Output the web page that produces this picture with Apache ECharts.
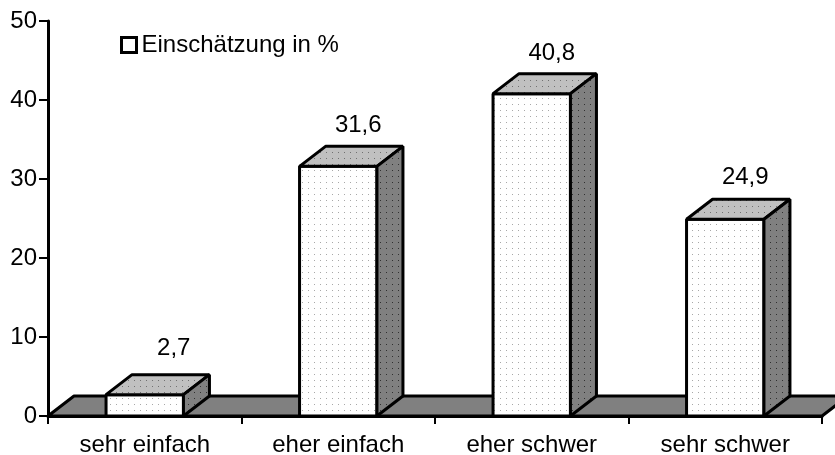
<!DOCTYPE html>
<html>
<head>
<meta charset="utf-8">
<style>
  html, body { margin: 0; padding: 0; background: #fff; }
  #chart { width: 835px; height: 455px; }
</style>
<script src="https://cdn.jsdelivr.net/npm/echarts@6/dist/echarts.min.js"></script>
</head>
<body>
<div id="chart"></div>
<script>
const categories = ['sehr einfach', 'eher einfach', 'eher schwer', 'sehr schwer'];
const values = [2.7, 31.6, 40.8, 24.9];
const yTicks = { min: 0, max: 50, interval: 10 };
const seriesName = 'Einschätzung in %';

const FONT = '"Liberation Sans", Arial, sans-serif';
const DEPTH_X = 26;
const DEPTH_Y = 20;
const LINE = { stroke: '#000', lineWidth: 3, lineJoin: 'bevel' };
// value labels do not sit at a fixed distance from the bars in the original
const labelNudge = [[29, -46], [20, -41], [20, -40], [20, -42]];

function dots(background, dot) {
  const c = document.createElement('canvas');
  c.width = 6;
  c.height = 6;
  const ctx = c.getContext('2d');
  ctx.fillStyle = background;
  ctx.fillRect(0, 0, 6, 6);
  ctx.fillStyle = dot;
  ctx.fillRect(2, 2, 1, 1);
  return { image: c, repeat: 'repeat' };
}

const frontFill = dots('#ffffff', '#a8a8a8');
const topFill = dots('#c0c0c0', '#707070');
const sideFill = dots('#808080', '#303030');

function poly(points, fill) {
  return { type: 'polygon', shape: { points }, style: { fill, ...LINE } };
}

function renderFloor(params) {
  const g = params.coordSys;
  const left = g.x;
  const right = g.x + g.width;
  const base = g.y + g.height;
  return poly([
    [left, base],
    [left + DEPTH_X, base - DEPTH_Y],
    [right + DEPTH_X, base - DEPTH_Y],
    [right, base]
  ], '#808080');
}

function renderBar(params, api) {
  const index = api.value(0);
  const top = api.coord([index, api.value(1)]);
  const base = api.coord([index, 0]);
  const width = api.size([1, 0])[0] * 0.4;
  const l = top[0] - width / 2;
  const r = top[0] + width / 2;
  const t = top[1];
  const b = base[1];
  return {
    type: 'group',
    children: [
      poly([[l, t], [r, t], [r, b], [l, b]], frontFill),
      poly([[l, t], [l + DEPTH_X, t - DEPTH_Y], [r + DEPTH_X, t - DEPTH_Y], [r, t]], topFill),
      poly([[r, t], [r + DEPTH_X, t - DEPTH_Y], [r + DEPTH_X, b - DEPTH_Y], [r, b]], sideFill),
      {
        type: 'text',
        style: {
          x: top[0] + labelNudge[index][0],
          y: t + labelNudge[index][1],
          text: String(api.value(1)).replace('.', ','),
          font: '24px ' + FONT,
          fill: '#000',
          align: 'center',
          verticalAlign: 'middle'
        }
      }
    ]
  };
}

const chart = echarts.init(document.getElementById('chart'));
chart.setOption({
  animation: false,
  backgroundColor: '#fff',
  textStyle: { fontFamily: FONT },
  grid: { left: 48, right: 13, top: 21, bottom: 39, outerBoundsMode: 'none' },
  legend: {
    left: 115,
    top: 28,
    itemWidth: 15,
    itemHeight: 15,
    itemGap: 6,
    textStyle: { fontSize: 24, color: '#000', fontFamily: FONT, padding: [0, 0, 0, 0] },
    data: [{
      name: seriesName,
      icon: 'rect',
      itemStyle: { color: '#fff', borderColor: '#000', borderWidth: 3 }
    }]
  },
  xAxis: {
    type: 'category',
    data: categories,
    axisLine: { lineStyle: { color: '#000', width: 3 } },
    axisTick: { show: true, length: 8, alignWithLabel: false, lineStyle: { color: '#000', width: 2 } },
    axisLabel: { color: '#000', fontSize: 24, margin: 17, fontFamily: FONT },
    splitLine: { show: false }
  },
  yAxis: {
    type: 'value',
    min: yTicks.min,
    max: yTicks.max,
    interval: yTicks.interval,
    axisLine: { show: true, lineStyle: { color: '#000', width: 3 } },
    axisTick: { show: true, length: 9, lineStyle: { color: '#000', width: 2 } },
    axisLabel: { color: '#000', fontSize: 24, margin: 11, fontFamily: FONT },
    splitLine: { show: false }
  },
  series: [
    {
      type: 'custom',
      name: 'floor',
      clip: false,
      silent: true,
      z: 1,
      renderItem: renderFloor,
      data: [[0, 0]]
    },
    {
      type: 'custom',
      name: seriesName,
      clip: false,
      z: 2,
      renderItem: renderBar,
      encode: { x: 0, y: 1 },
      data: values.map((v, i) => [i, v])
    }
  ]
});

window.addEventListener('resize', () => chart.resize());
</script>
</body>
</html>
